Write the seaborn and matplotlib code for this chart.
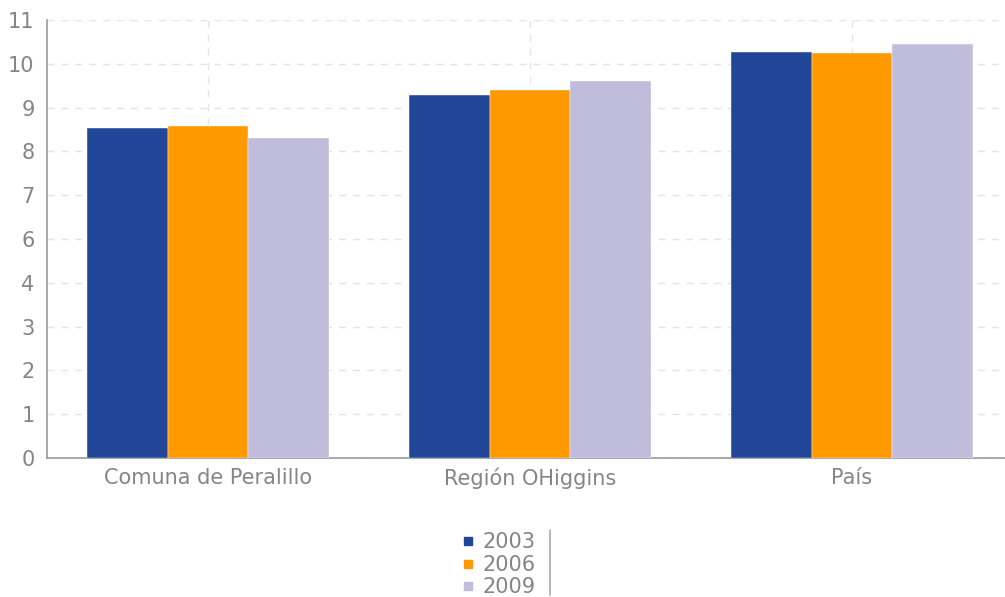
import numpy as np
import pandas as pd
import seaborn as sns
import matplotlib.pyplot as plt
from matplotlib.lines import Line2D

categorias = ["Comuna de Peralillo", "Región OHiggins", "País"]
anios = ["2003", "2006", "2009"]
valores_2003 = [8.29, 9.12, 10.19]
valores_2006 = [8.33, 9.25, 10.16]
valores_2009 = [8.04, 9.48, 10.40]
colores = ["#214597", "#FF9900", "#C0BCDC"]
etiquetas_y = ["0", "1", "2", "3", "4", "6", "7", "8", "9", "10", "11"]

gris_texto = "#858585"
gris_eje = "#999999"

datos = pd.DataFrame({
    "categoria": categorias * 3,
    "anio": [a for a in anios for _ in categorias],
    "valor": valores_2003 + valores_2006 + valores_2009,
})

sns.set_style("white")
plt.rcParams["font.family"] = ["DejaVu Sans"]

fig = plt.figure(figsize=(10.05, 5.97), dpi=100)
ax = fig.add_axes([47 / 1005, 1 - 458 / 597, 966 / 1005, 438 / 597])

sns.barplot(
    data=datos, x="categoria", y="valor", hue="anio",
    palette=colores, saturation=1, width=0.75, gap=0, ax=ax,
    edgecolor="white", linewidth=0.3, legend=False, zorder=3,
)

ax.set_xlim(-0.5, 2.5)
ax.set_ylim(0, 11)
ax.set_yticks(np.linspace(0, 11, 11))
ax.set_yticklabels(etiquetas_y)
ax.set_xlabel("")
ax.set_ylabel("")

ax.grid(True, axis="both", color="#e4e4e4", linestyle=(0, (5, 5)), linewidth=1, zorder=0)
ax.set_axisbelow(True)

for lado in ["top", "right"]:
    ax.spines[lado].set_visible(False)
for lado in ["left", "bottom"]:
    ax.spines[lado].set_color(gris_eje)
    ax.spines[lado].set_linewidth(1.2)

ax.tick_params(axis="y", direction="out", length=7, width=1.2, color=gris_eje,
               labelsize=15, labelcolor=gris_texto, pad=2)
ax.tick_params(axis="x", direction="out", length=5, width=1, color=gris_eje,
               labelsize=15, labelcolor=gris_texto, pad=2)

manejadores = [
    Line2D([0], [0], marker="s", linestyle="", markersize=5.5,
           markerfacecolor=c, markeredgecolor=c)
    for c in colores
]
leyenda = fig.legend(
    manejadores, anios, loc="upper center", bbox_to_anchor=(497 / 1005, 1 - 522 / 597),
    frameon=False, fontsize=15, labelspacing=0.12, handletextpad=0.2,
    handlelength=1.0, borderpad=0,
)
for t in leyenda.get_texts():
    t.set_color(gris_texto)

fig.add_artist(Line2D([550 / 1005, 550 / 1005], [1 - 530 / 597, 1 - 595 / 597],
                      color="#aaaaaa", linewidth=1.2))

fig.savefig("out.png", dpi=100)
